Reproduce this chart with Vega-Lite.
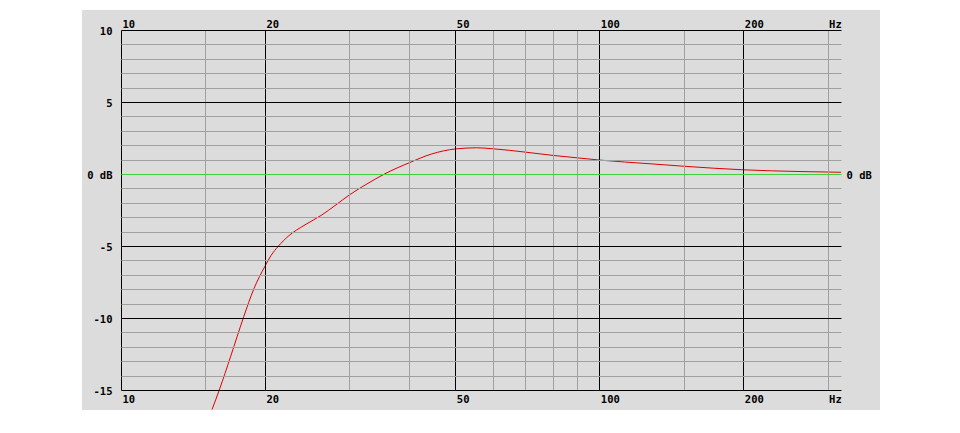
{
  "$schema": "https://vega.github.io/schema/vega-lite/v6.json",
  "autosize": "none",
  "width": 720,
  "height": 360,
  "padding": {"left": 121, "top": 30, "right": 119, "bottom": 43},
  "background": "white",
  "config": {
    "view": {"stroke": null},
    "axis": {
      "labelFont": "DejaVu Sans Mono",
      "labelFontWeight": "bold",
      "labelFontSize": 10.5,
      "labelColor": "black",
      "ticks": false,
      "domain": false,
      "labelFlush": false,
      "labelOverlap": false,
      "labelBound": false,
      "gridOpacity": 1,
      "gridWidth": 1,
      "zindex": 1
    }
  },
  "resolve": {"axis": {"x": "independent", "y": "independent"}},
  "layer": [
    {
      "data": {"values": [{}]},
      "mark": {"type": "rect", "color": "#dcdcdc", "clip": false},
      "encoding": {
        "x": {
          "datum": 8.288, "type": "quantitative",
          "scale": {"type": "log", "domain": [10, 320], "nice": false, "clamp": false},
          "axis": {
            "orient": "top", "title": null, "grid": false, "zindex": 1,
            "values": [10, 20, 50, 100, 200, 300],
            "labelExpr": "datum.value == 300 ? 'Hz' : '' + datum.value",
            "labelAlign": "left", "labelBaseline": "alphabetic", "labelPadding": 3, "labelOffset": 1
          }
        },
        "x2": {"datum": 386.1},
        "y": {
          "datum": 11.39, "type": "quantitative",
          "scale": {"domain": [-15, 10], "nice": false, "zero": false, "clamp": false},
          "axis": {
            "orient": "right", "title": null, "grid": false, "zindex": 1,
            "values": [0],
            "labelExpr": "'0 dB'",
            "labelAlign": "left", "labelBaseline": "middle", "labelPadding": 5, "labelOffset": 1
          }
        },
        "y2": {"datum": -16.39}
      }
    },
    {
      "data": {
        "values": [
          {"f": 15.5, "db": -16.35},
          {"f": 16.05, "db": -15.0},
          {"f": 16.96, "db": -12.65},
          {"f": 18.02, "db": -9.99},
          {"f": 18.97, "db": -7.95},
          {"f": 20.0, "db": -6.4},
          {"f": 20.59, "db": -5.66},
          {"f": 21.33, "db": -5.01},
          {"f": 22.37, "db": -4.32},
          {"f": 24.25, "db": -3.53},
          {"f": 26.28, "db": -2.85},
          {"f": 28.02, "db": -2.19},
          {"f": 30.0, "db": -1.46},
          {"f": 32.68, "db": -0.69},
          {"f": 35.6, "db": 0.01},
          {"f": 40.05, "db": 0.78},
          {"f": 44.6, "db": 1.39},
          {"f": 50.0, "db": 1.74},
          {"f": 55.4, "db": 1.82},
          {"f": 60.0, "db": 1.75},
          {"f": 70.0, "db": 1.52},
          {"f": 80.0, "db": 1.29},
          {"f": 90.0, "db": 1.12},
          {"f": 100.0, "db": 0.97},
          {"f": 127.6, "db": 0.71},
          {"f": 150.0, "db": 0.54},
          {"f": 200.0, "db": 0.29},
          {"f": 264.0, "db": 0.17},
          {"f": 320.0, "db": 0.12}
        ]
      },
      "mark": {"type": "line", "color": "#e00000", "strokeWidth": 1, "interpolate": "monotone", "clip": false},
      "encoding": {
        "x": {
          "field": "f", "type": "quantitative",
          "scale": {"type": "log", "domain": [10, 320], "nice": false, "clamp": false},
          "axis": {
            "orient": "bottom", "title": null, "grid": true, "zindex": 1,
            "values": [10, 15, 20, 30, 40, 50, 60, 70, 80, 90, 100, 150, 200, 300],
            "labelExpr": "indexof([10, 20, 50, 100, 200], datum.value) >= 0 ? '' + datum.value : (datum.value == 300 ? 'Hz' : '')",
            "gridColor": {"condition": {"test": "indexof([10, 20, 50, 100, 200], datum.value) >= 0", "value": "black"}, "value": "#a0a0a0"},
            "labelAlign": "left", "labelBaseline": "top", "labelPadding": 4, "labelOffset": 1
          }
        },
        "y": {
          "field": "db", "type": "quantitative",
          "scale": {"domain": [-15, 10], "nice": false, "zero": false, "clamp": false},
          "axis": {
            "orient": "left", "title": null, "grid": true, "zindex": 1,
            "values": [-15, -14, -13, -12, -11, -10, -9, -8, -7, -6, -5, -4, -3, -2, -1, 0, 1, 2, 3, 4, 5, 6, 7, 8, 9, 10],
            "labelExpr": "datum.value == 0 ? '0 dB' : (datum.value % 5 == 0 ? '' + datum.value : '')",
            "gridColor": {"condition": [{"test": "datum.value == 0", "value": "#40d040"}, {"test": "datum.value % 5 == 0", "value": "black"}], "value": "#a0a0a0"},
            "labelAlign": "right", "labelBaseline": "middle", "labelPadding": 9, "labelOffset": 1
          }
        }
      }
    }
  ]
}
